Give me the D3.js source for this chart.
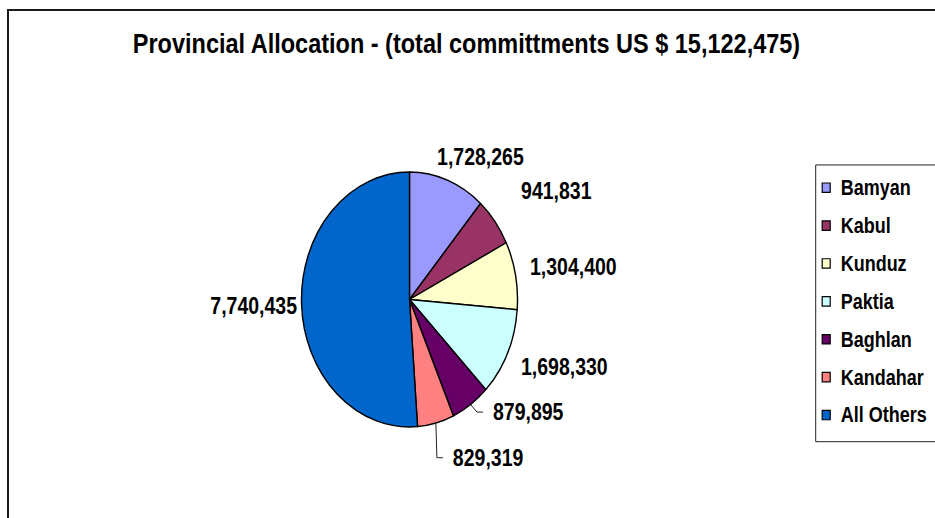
<!DOCTYPE html>
<html>
<head>
<meta charset="utf-8">
<script src="https://cdn.jsdelivr.net/npm/d3@7"></script>
<style>
  html, body { margin: 0; padding: 0; background: #fff; }
  svg text { font-family: "Liberation Sans", Arial, sans-serif; font-weight: bold; fill: #000; }
  .stroke { vector-effect: non-scaling-stroke; }
</style>
</head>
<body>
<div id="chart"></div>
<script>
// data
const provinces = ["Bamyan", "Kabul", "Kunduz", "Paktia", "Baghlan", "Kandahar", "All Others"];
const commitments = [1728265, 941831, 1304400, 1698330, 879895, 829319, 7740435];
const sliceColors = ["#9999FF", "#993366", "#FFFFCC", "#CCFFFF", "#660066", "#FF8080", "#0066CC"];
const titleText = "Provincial Allocation - (total committments US $ 15,122,475)";

// label layout tweaks (the original labels were moved by hand)
const labelNudge = [[12.8, 0], [22.3, -13.1], [1.5, -3.1], [4.8, 3.1], [29.7, -10.9], [40.2, 9], [9.4, 0.7]];
const hasLeader = [false, false, false, false, true, true, false];

const width = 935, height = 518;
const stretch = 1.18; // the picture is stretched vertically
const cx = 409.5, cy = 253.8, radius = 108;

const svg = d3.select("#chart").append("svg")
  .attr("width", width)
  .attr("height", height);

const g = svg.append("g").attr("transform", "scale(1," + stretch + ")");

// chart border
g.append("rect")
  .attr("class", "stroke")
  .attr("x", 8)
  .attr("y", 10 / stretch)
  .attr("width", 1200)
  .attr("height", 1000)
  .attr("fill", "#fff")
  .attr("stroke", "#1a1a1a")
  .attr("stroke-width", 2);

// title
g.append("text")
  .attr("x", 466.5)
  .attr("y", 44.9)
  .attr("text-anchor", "middle")
  .style("font-size", "23.5px")
  .text(titleText);

const pie = d3.pie().sort(null).value(d => d);
const arcs = pie(commitments);
const arc = d3.arc().innerRadius(0).outerRadius(radius);

const pieG = g.append("g").attr("transform", "translate(" + cx + "," + cy + ")");

pieG.selectAll("path")
  .data(arcs)
  .enter()
  .append("path")
  .attr("class", "stroke")
  .attr("d", arc)
  .attr("fill", (d, i) => sliceColors[i])
  .attr("stroke", "#000")
  .attr("stroke-width", 1.4)
  .attr("stroke-linejoin", "round");

const fmt = d3.format(",");

arcs.forEach(function (d, i) {
  const mid = (d.startAngle + d.endAngle) / 2;
  const s = Math.sin(mid), c = Math.cos(mid);
  const px = radius * s, py = -radius * c;

  const label = pieG.append("text")
    .attr("text-anchor", "middle")
    .attr("dy", "0.35em")
    .style("font-size", "19.5px")
    .text(fmt(commitments[i]));

  const hw = label.node().getComputedTextLength() / 2;
  const hh = 7, pad = 14;
  const lx = px + s * (hw + pad) + labelNudge[i][0];
  const ly = py - c * (hh + pad) + labelNudge[i][1];
  label.attr("x", lx).attr("y", ly);

  if (hasLeader[i]) {
    const stubEnd = lx - hw - 10;
    const elbow = stubEnd - 6;
    pieG.append("polyline")
      .attr("class", "stroke")
      .attr("points", [[px, py], [elbow, ly], [stubEnd, ly]].map(p => p.join(",")).join(" "))
      .attr("fill", "none")
      .attr("stroke", "#222")
      .attr("stroke-width", 1);
  }
});

// legend
const legendTop = 139.8, legendLeft = 815.7;
const legendStep = 32.1, firstItem = 159.1;

g.append("rect")
  .attr("class", "stroke")
  .attr("x", legendLeft)
  .attr("y", legendTop)
  .attr("width", 200)
  .attr("height", 234.5)
  .attr("fill", "#fff")
  .attr("stroke", "#222")
  .attr("stroke-width", 1);

const item = g.selectAll(".legend-item")
  .data(provinces)
  .enter()
  .append("g")
  .attr("class", "legend-item")
  .attr("transform", (d, i) => "translate(" + legendLeft + "," + (firstItem + i * legendStep) + ")");

item.append("rect")
  .attr("class", "stroke")
  .attr("x", 6.5)
  .attr("y", -4)
  .attr("width", 8)
  .attr("height", 8)
  .attr("fill", (d, i) => sliceColors[i])
  .attr("stroke", "#000")
  .attr("stroke-width", 1.2);

item.append("text")
  .attr("x", 25)
  .attr("dy", "0.35em")
  .style("font-size", "18px")
  .text(d => d);
</script>
</body>
</html>
